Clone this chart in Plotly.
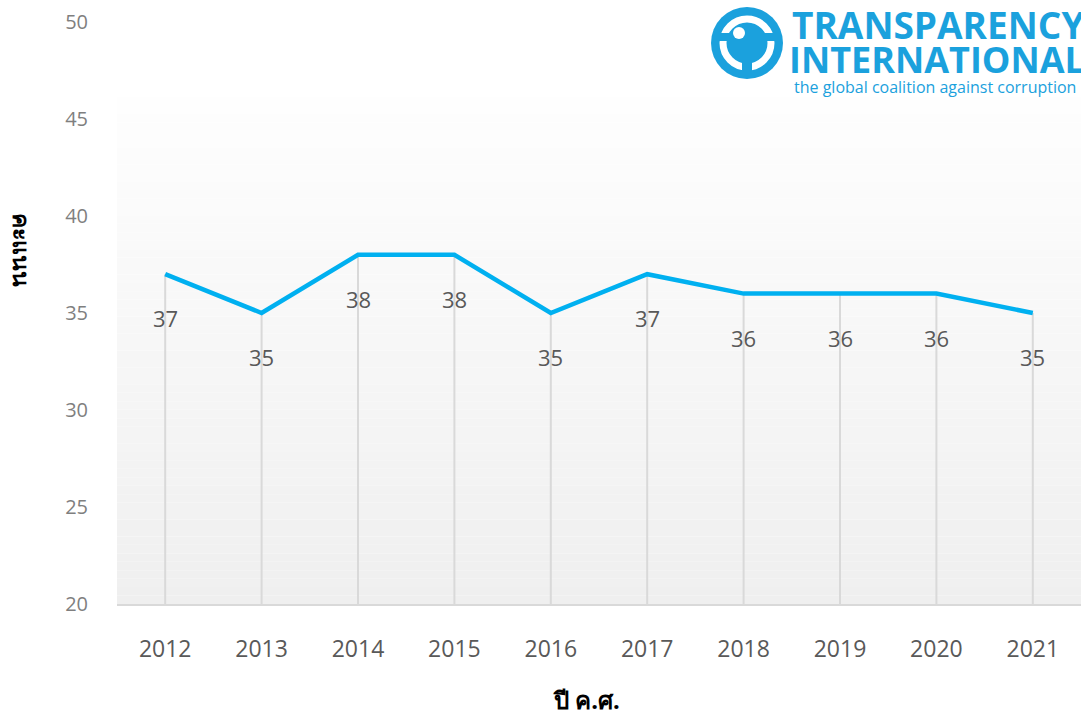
import plotly.graph_objects as go

years = ["2012", "2013", "2014", "2015", "2016", "2017", "2018", "2019", "2020", "2021"]
scores = [37, 35, 38, 38, 35, 37, 36, 36, 36, 35]
y_ticks = [20, 25, 30, 35, 40, 45, 50]
x_title = "ปี ค.ศ."
y_title = "คะแนน"

W, H = 1081, 715
L, R, T, B = 117, 0, 22, 111
pw, ph = W - L - R, H - T - B

def px_x(p):
    return (p - L) / pw

def px_y(p):
    return (H - B - p) / ph

fig = go.Figure()

# drop lines
fig.add_trace(go.Scatter(
    x=years, y=scores, mode="markers",
    marker=dict(size=0.1, color="rgba(0,0,0,0)"),
    error_y=dict(type="data", symmetric=False, array=[0] * len(scores),
                 arrayminus=[s - y_ticks[0] for s in scores],
                 color="#d9d9d9", thickness=2, width=0),
    hoverinfo="skip", showlegend=False,
))

fig.add_trace(go.Scatter(
    x=years, y=scores, mode="lines",
    line=dict(color="#00b0f0", width=4.5),
    showlegend=False,
))

shapes = []
# gradient background strips
top_val = 46.13
n = 60
for i in range(n):
    y0 = y_ticks[0] + (top_val - y_ticks[0]) * i / n
    y1 = y_ticks[0] + (top_val - y_ticks[0]) * (i + 1) / n
    f = i / (n - 1)
    c = int(round(239 + (254 - 239) * f))
    shapes.append(dict(type="rect", xref="paper", yref="y", x0=0, x1=1, y0=y0, y1=y1,
                       fillcolor=f"rgb({c},{c},{c})", line=dict(width=0), layer="below"))

# logo icon
blue = "#1ba1dd"
cx, cy, r = 747, 43, 36
shapes.append(dict(type="circle", xref="paper", yref="paper",
                   x0=px_x(cx - r), x1=px_x(cx + r), y0=px_y(cy + r), y1=px_y(cy - r),
                   fillcolor=blue, line=dict(width=0), layer="above"))
r2 = 24
shapes.append(dict(type="circle", xref="paper", yref="paper",
                   x0=px_x(cx - r2), x1=px_x(cx + r2), y0=px_y(cy + r2), y1=px_y(cy - r2),
                   fillcolor="rgba(0,0,0,0)", line=dict(width=7, color="white"), layer="above"))
shapes.append(dict(type="rect", xref="paper", yref="paper",
                   x0=px_x(cx - 5), x1=px_x(cx + 5), y0=px_y(cy + 34), y1=px_y(cy - 6),
                   fillcolor=blue, line=dict(width=0), layer="above"))
shapes.append(dict(type="rect", xref="paper", yref="paper",
                   x0=px_x(cx - 30), x1=px_x(cx + 30), y0=px_y(cy - 2), y1=px_y(cy - 10),
                   fillcolor=blue, line=dict(width=0), layer="above"))
shapes.append(dict(type="circle", xref="paper", yref="paper",
                   x0=px_x(cx - 14), x1=px_x(cx - 2), y0=px_y(cy - 4), y1=px_y(cy - 16),
                   fillcolor="white", line=dict(width=0), layer="above"))

annotations = []
for i, s in enumerate(scores):
    annotations.append(dict(x=i, y=s, xref="x", yref="y", text=str(s), showarrow=False,
                            xanchor="center", yanchor="middle",
                            yshift=-44, font=dict(family="Open Sans", size=22, color="#595959")))

annotations.append(dict(x=px_x(586), y=px_y(699), xref="paper", yref="paper", text=f"<b>{x_title}</b>",
                        xanchor="center", yanchor="middle",
                        showarrow=False, font=dict(family="Noto Sans", size=24, color="#000000")))
annotations.append(dict(x=px_x(22), y=px_y(250), xref="paper", yref="paper", text=f"<b>{y_title}</b>",
                        xanchor="center", yanchor="middle",
                        showarrow=False, textangle=90, font=dict(family="Noto Sans", size=23, color="#000000")))

# logo text
annotations.append(dict(x=px_x(790), y=px_y(25), xref="paper", yref="paper", xanchor="left", yanchor="middle",
                        text="<b>TRANSPARENCY</b>", showarrow=False,
                        font=dict(family="Open Sans", size=37, color=blue)))
annotations.append(dict(x=px_x(787), y=px_y(59), xref="paper", yref="paper", xanchor="left", yanchor="middle",
                        text="<b>INTERNATIONAL</b>", showarrow=False,
                        font=dict(family="Open Sans", size=36, color=blue)))
annotations.append(dict(x=px_x(792), y=px_y(87), xref="paper", yref="paper", xanchor="left", yanchor="middle",
                        text="the global coalition against corruption", showarrow=False,
                        font=dict(family="Open Sans", size=16, color=blue)))

fig.update_layout(
    width=W, height=H,
    margin=dict(l=L, r=R, t=T, b=B),
    paper_bgcolor="white", plot_bgcolor="rgba(0,0,0,0)",
    shapes=shapes, annotations=annotations,
    showlegend=False,
    xaxis=dict(type="category", range=[-0.5, 9.5], showgrid=False, zeroline=False,
               showline=True, linecolor="#d9d9d9", linewidth=2,
               tickfont=dict(family="Open Sans", size=23, color="#595959"),
               ticks="", ticklabelstandoff=23),
    yaxis=dict(range=[y_ticks[0], y_ticks[-1]], tickvals=y_ticks, showgrid=False, zeroline=False,
               showline=False, ticks="", ticklabelstandoff=28,
               tickfont=dict(family="Open Sans", size=20, color="#7f7f7f")),
)

fig.write_html("out.html")
